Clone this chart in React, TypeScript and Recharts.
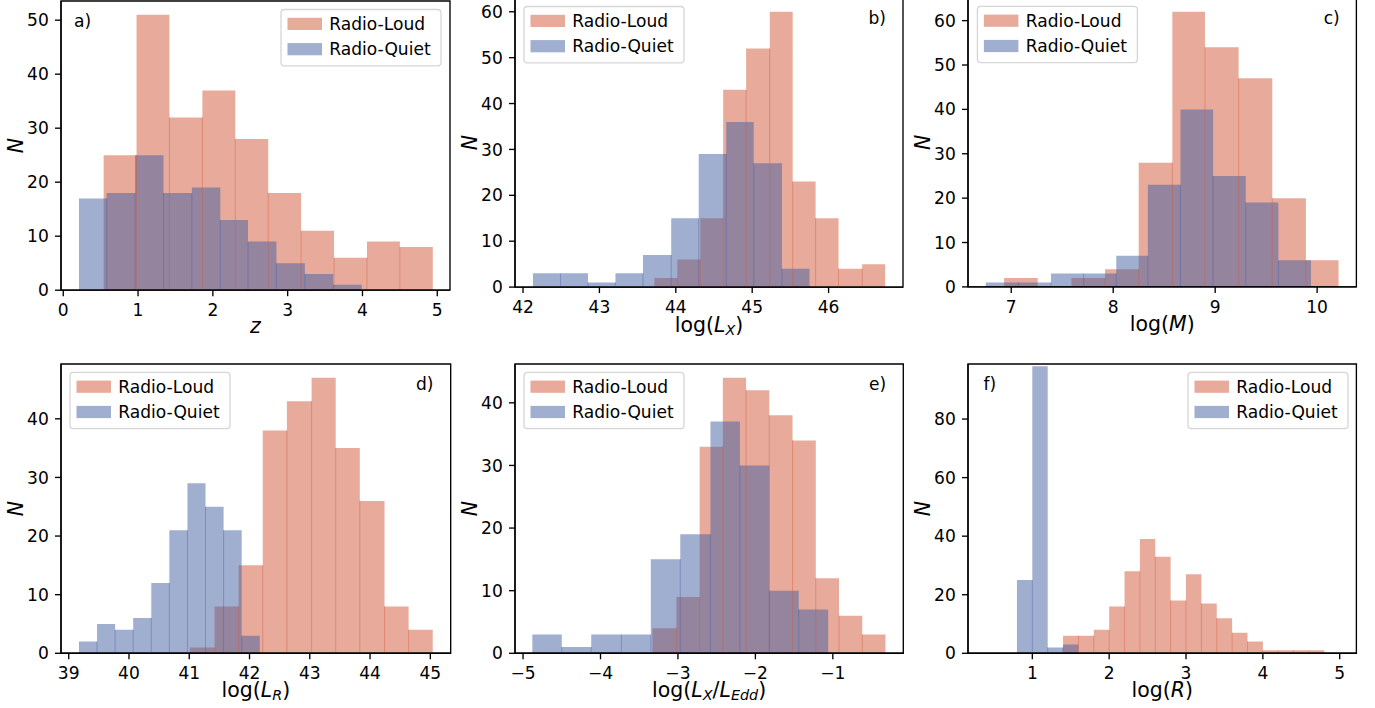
import React from 'react';
import { ComposedChart, Area, XAxis, YAxis, ReferenceLine, ReferenceArea } from 'recharts';

// ---------------- data ----------------
const A_RL_EDGES = [0.54, 0.98, 1.42, 1.86, 2.3, 2.74, 3.18, 3.62, 4.06, 4.5, 4.94];
const A_RL_COUNTS = [25, 51, 32, 37, 28, 18, 11, 6, 9, 8];
const A_RQ_EDGES = [0.21, 0.58, 0.96, 1.34, 1.72, 2.1, 2.47, 2.85, 3.23, 3.61, 3.99];
const A_RQ_COUNTS = [17, 18, 25, 18, 19, 13, 9, 5, 3, 1];

const B_RL_EDGES = [43.72, 44.02, 44.32, 44.62, 44.92, 45.23, 45.53, 45.83, 46.13, 46.44, 46.74];
const B_RL_COUNTS = [2, 6, 15, 43, 52, 60, 23, 15, 4, 5];
const B_RQ_EDGES = [42.13, 42.49, 42.85, 43.21, 43.57, 43.94, 44.3, 44.66, 45.02, 45.39, 45.75];
const B_RQ_COUNTS = [3, 3, 1, 3, 7, 15, 29, 36, 27, 4];

const C_RL_EDGES = [6.93, 7.26, 7.59, 7.92, 8.25, 8.58, 8.9, 9.23, 9.56, 9.89, 10.21];
const C_RL_COUNTS = [2, 0, 2, 4, 28, 62, 54, 47, 20, 6];
const C_RQ_EDGES = [6.75, 7.07, 7.39, 7.71, 8.03, 8.34, 8.66, 8.98, 9.3, 9.62, 9.94];
const C_RQ_COUNTS = [1, 1, 3, 3, 7, 23, 40, 25, 19, 6];

const D_RL_EDGES = [41.01, 41.42, 41.82, 42.22, 42.62, 43.03, 43.43, 43.83, 44.24, 44.64, 45.04];
const D_RL_COUNTS = [1, 8, 15, 38, 43, 47, 35, 26, 8, 4];
const D_RQ_EDGES = [39.17, 39.47, 39.77, 40.07, 40.37, 40.67, 40.97, 41.27, 41.57, 41.87, 42.17];
const D_RQ_COUNTS = [2, 5, 4, 6, 12, 21, 29, 25, 21, 3];

const E_RL_EDGES = [-3.33, -3.02, -2.72, -2.42, -2.12, -1.82, -1.52, -1.22, -0.92, -0.62, -0.32];
const E_RL_COUNTS = [4, 9, 33, 44, 42, 38, 34, 12, 6, 3];
const E_RQ_EDGES = [-4.88, -4.5, -4.12, -3.73, -3.35, -2.97, -2.58, -2.2, -1.82, -1.44, -1.06];
const E_RQ_COUNTS = [3, 1, 3, 3, 15, 19, 37, 30, 10, 7];

const F_RL_EDGES = [1.4, 1.6, 1.8, 2.0, 2.2, 2.4, 2.6, 2.8, 3.0, 3.2, 3.4, 3.6, 3.8, 4.0, 4.2, 4.4, 4.6, 4.8];
const F_RL_COUNTS = [6, 6, 8, 16, 28, 39, 33, 18, 27, 17, 12, 7, 4, 1, 1, 1, 1];
const F_RQ_EDGES = [0.8, 1.0, 1.2, 1.4, 1.6];
const F_RQ_COUNTS = [25, 98, 2, 3];

const A_X_TICKS = [0, 1, 2, 3, 4, 5];
const A_Y_TICKS = [0, 10, 20, 30, 40, 50];
const B_X_TICKS = [42, 43, 44, 45, 46];
const B_Y_TICKS = [0, 10, 20, 30, 40, 50, 60];
const C_X_TICKS = [7, 8, 9, 10];
const C_Y_TICKS = [0, 10, 20, 30, 40, 50, 60];
const D_X_TICKS = [39, 40, 41, 42, 43, 44, 45];
const D_Y_TICKS = [0, 10, 20, 30, 40];
const E_X_TICKS = [-5, -4, -3, -2, -1];
const E_Y_TICKS = [0, 10, 20, 30, 40];
const F_X_TICKS = [1, 2, 3, 4, 5];
const F_Y_TICKS = [0, 20, 40, 60, 80];

const SERIES_NAMES = ['Radio-Loud', 'Radio-Quiet'];
const PANEL_LETTERS = ['a)', 'b)', 'c)', 'd)', 'e)', 'f)'];

// ---------------- style ----------------
const RL_COLOR = '#D15737';
const RQ_COLOR = '#415DA1';
const FONT = '"DejaVu Sans", Verdana, sans-serif';
const TICK_FS = 17.1;
const LABEL_FS = 20.5;
const SUB_FS = 14.35;
const LW = 1.35;

type Seg = { t: string; it?: boolean; sub?: boolean };

function buildTable(rlE: number[], rlC: number[], rqE: number[], rqC: number[]) {
  const xs = Array.from(new Set([...rlE, ...rqE])).sort((a, b) => a - b);
  const valAt = (edges: number[], counts: number[], x: number) => {
    for (let i = 0; i < counts.length; i++) {
      if (x >= edges[i] - 1e-9 && x < edges[i + 1] - 1e-9) return counts[i];
    }
    return 0;
  };
  return xs.map((x) => ({ x, rl: valAt(rlE, rlC, x), rq: valAt(rqE, rqC, x) }));
}

function seams(edges: number[], counts: number[]) {
  const out: { x: number; h: number }[] = [];
  for (let i = 1; i < counts.length; i++) {
    const h = Math.min(counts[i - 1], counts[i]);
    if (h > 0) out.push({ x: edges[i], h });
  }
  return out;
}

const fmtMinus = (v: number) => (v < 0 ? '\u2212' + Math.abs(v) : String(v));

const PANELS = [
  {
    letter: PANEL_LETTERS[0], rlE: A_RL_EDGES, rlC: A_RL_COUNTS, rqE: A_RQ_EDGES, rqC: A_RQ_COUNTS,
    plot: [61, 0.8, 450, 290], xDomain: [-0.03, 5.17], yDomain: [0, 53.55], xTicks: A_X_TICKS, yTicks: A_Y_TICKS,
    label: [{ t: 'z', it: true }] as Seg[], labelDy: 43.3, letterX: 74, legend: [281, 9.3],
  },
  {
    letter: PANEL_LETTERS[1], rlE: B_RL_EDGES, rlC: B_RL_COUNTS, rqE: B_RQ_EDGES, rqC: B_RQ_COUNTS,
    plot: [515, -1.8, 903, 287.3], xDomain: [41.895, 46.974], yDomain: [0, 63], xTicks: B_X_TICKS, yTicks: B_Y_TICKS,
    label: [{ t: 'log(' }, { t: 'L', it: true }, { t: 'X', it: true, sub: true }, { t: ')' }] as Seg[], labelDy: 44.5,
    letterX: 868.5, legend: [524, 6.7],
  },
  {
    letter: PANEL_LETTERS[2], rlE: C_RL_EDGES, rlC: C_RL_COUNTS, rqE: C_RQ_EDGES, rqC: C_RQ_COUNTS,
    plot: [968.3, -1.6, 1356.7, 287.3], xDomain: [6.576, 10.385], yDomain: [0, 65.1], xTicks: C_X_TICKS, yTicks: C_Y_TICKS,
    label: [{ t: 'log(' }, { t: 'M', it: true }, { t: ')' }] as Seg[], labelDy: 44.5,
    letterX: 1324, legend: [977.7, 6.7],
  },
  {
    letter: PANEL_LETTERS[3], rlE: D_RL_EDGES, rlC: D_RL_COUNTS, rqE: D_RQ_EDGES, rqC: D_RQ_COUNTS,
    plot: [61, 364, 450.7, 653.3], xDomain: [38.872, 45.338], yDomain: [0, 49.35], xTicks: D_X_TICKS, yTicks: D_Y_TICKS,
    label: [{ t: 'log(' }, { t: 'L', it: true }, { t: 'R', it: true, sub: true }, { t: ')' }] as Seg[], labelDy: 44,
    letterX: 415.9, legend: [70, 372.3],
  },
  {
    letter: PANEL_LETTERS[4], rlE: E_RL_EDGES, rlC: E_RL_COUNTS, rqE: E_RQ_EDGES, rqC: E_RQ_COUNTS,
    plot: [515, 364, 903.3, 653.3], xDomain: [-5.104, -0.09], yDomain: [0, 46.2], xTicks: E_X_TICKS, yTicks: E_Y_TICKS,
    label: [
      { t: 'log(' }, { t: 'L', it: true }, { t: 'X', it: true, sub: true }, { t: '/' },
      { t: 'L', it: true }, { t: 'Edd', it: true, sub: true }, { t: ')' },
    ] as Seg[], labelDy: 44,
    letterX: 869, legend: [524, 372.3],
  },
  {
    letter: PANEL_LETTERS[5], rlE: F_RL_EDGES, rlC: F_RL_COUNTS, rqE: F_RQ_EDGES, rqC: F_RQ_COUNTS,
    plot: [968.3, 364, 1356.7, 653.3], xDomain: [0.163, 5.217], yDomain: [0, 98.8], xTicks: F_X_TICKS, yTicks: F_Y_TICKS,
    label: [{ t: 'log(' }, { t: 'R', it: true }, { t: ')' }] as Seg[], labelDy: 44,
    letterX: 983.7, legend: [1188.3, 372.3],
  },
];

const PAD_L = 70;
const PAD_T = 12;
const PAD_R = 16;
const PAD_B = 64;
const SUB_SHIFT = 3.2;

function MathLabel({ segs, x, y }: { segs: Seg[]; x: number; y: number }) {
  let shifted = false;
  return (
    <text x={x} y={y} textAnchor="middle" fontFamily={FONT} fontSize={LABEL_FS} fill="#000">
      {segs.map((s, i) => {
        let dy = 0;
        if (s.sub && !shifted) { dy = SUB_SHIFT; shifted = true; }
        else if (!s.sub && shifted) { dy = -SUB_SHIFT; shifted = false; }
        return (
          <tspan key={i} dy={dy} fontStyle={s.it ? 'italic' : 'normal'} fontSize={s.sub ? SUB_FS : LABEL_FS}>
            {s.t}
          </tspan>
        );
      })}
    </text>
  );
}

function Panel({ cfg }: { cfg: (typeof PANELS)[number] }) {
  const [x0, y0, x1, y1] = cfg.plot;
  const W = x1 - x0 + PAD_L + PAD_R;
  const H = y1 - y0 + PAD_T + PAD_B;
  const left = x0 - PAD_L;
  const top = y0 - PAD_T;
  const table = buildTable(cfg.rlE, cfg.rlC, cfg.rqE, cfg.rqC);
  const rlSeams = seams(cfg.rlE, cfg.rlC);
  const rqSeams = seams(cfg.rqE, cfg.rqC);
  const lx0 = PAD_L;
  const ly0 = PAD_T;
  const lx1 = PAD_L + (x1 - x0);
  const ly1 = PAD_T + (y1 - y0);
  const bx = cfg.legend[0] - left;
  const by = cfg.legend[1] - top;
  const tickStyle = { fontSize: TICK_FS, fill: '#000', fontFamily: FONT };
  return (
    <div style={{ position: 'absolute', left, top, width: W, height: H }}>
      <ComposedChart width={W} height={H} data={table} margin={{ top: PAD_T, right: PAD_R, left: 0, bottom: 0 }}>
        <XAxis
          type="number" dataKey="x" domain={cfg.xDomain} ticks={cfg.xTicks} allowDataOverflow interval={0}
          height={PAD_B} tickSize={6} tickMargin={7.5} tick={tickStyle} tickFormatter={fmtMinus}
          axisLine={{ stroke: '#000', strokeWidth: LW }} tickLine={{ stroke: '#000', strokeWidth: LW }}
        />
        <YAxis
          type="number" domain={cfg.yDomain} ticks={cfg.yTicks} allowDataOverflow interval={0}
          width={PAD_L} tickSize={6} tickMargin={6.2} tick={tickStyle}
          axisLine={{ stroke: '#000', strokeWidth: LW }} tickLine={{ stroke: '#000', strokeWidth: LW }}
        />
        <Area
          dataKey="rl" name={SERIES_NAMES[0]} type="stepAfter" fill={RL_COLOR} fillOpacity={0.5} stroke="none"
          isAnimationActive={false} dot={false} activeDot={false}
        />
        {rlSeams.map((s, i) => (
          <ReferenceLine key={'rls' + i} segment={[{ x: s.x, y: 0 }, { x: s.x, y: s.h }]}
            stroke={RL_COLOR} strokeOpacity={0.4} strokeWidth={1} />
        ))}
        <Area
          dataKey="rq" name={SERIES_NAMES[1]} type="stepAfter" fill={RQ_COLOR} fillOpacity={0.5} stroke="none"
          isAnimationActive={false} dot={false} activeDot={false}
        />
        {rqSeams.map((s, i) => (
          <ReferenceLine key={'rqs' + i} segment={[{ x: s.x, y: 0 }, { x: s.x, y: s.h }]}
            stroke={RQ_COLOR} strokeOpacity={0.4} strokeWidth={1} />
        ))}
        <ReferenceArea x1={cfg.xDomain[0]} x2={cfg.xDomain[1]} y1={cfg.yDomain[0]} y2={cfg.yDomain[1]}
          fill="none" fillOpacity={0} stroke="#000" strokeWidth={LW} ifOverflow="visible" />
        <text x={cfg.letterX - left} y={ly0 + 26.5} fontFamily={FONT} fontSize={TICK_FS} fill="#000">
          {cfg.letter}
        </text>
        <text
          x={lx0 - 37.8} y={(ly0 + ly1) / 2} transform={`rotate(-90 ${lx0 - 37.8} ${(ly0 + ly1) / 2})`}
          textAnchor="middle" fontFamily={FONT} fontSize={LABEL_FS} fontStyle="italic" fill="#000"
        >
          N
        </text>
        <MathLabel segs={cfg.label} x={(lx0 + lx1) / 2} y={ly1 + cfg.labelDy} />
        <g>
          <rect x={bx} y={by} width={160} height={56.4} rx={3.4} ry={3.4} fill="#fff" fillOpacity={0.8}
            stroke="#cccccc" strokeOpacity={0.8} strokeWidth={1.3} />
          <rect x={bx + 6.5} y={by + 8.3} width={34.5} height={12.2} fill={RL_COLOR} fillOpacity={0.5} />
          <rect x={bx + 6.5} y={by + 33.6} width={34.5} height={12.2} fill={RQ_COLOR} fillOpacity={0.5} />
          <text x={bx + 48.3} y={by + 20.7} fontFamily={FONT} fontSize={TICK_FS} fill="#000">{SERIES_NAMES[0]}</text>
          <text x={bx + 48.3} y={by + 45.8} fontFamily={FONT} fontSize={TICK_FS} fill="#000">{SERIES_NAMES[1]}</text>
        </g>
      </ComposedChart>
    </div>
  );
}

export default function App() {
  return (
    <div style={{ position: 'absolute', left: 0, top: 0, width: 1375, height: 708, background: '#fff', overflow: 'hidden' }}>
      {PANELS.map((p) => (
        <Panel key={p.letter} cfg={p} />
      ))}
    </div>
  );
}
